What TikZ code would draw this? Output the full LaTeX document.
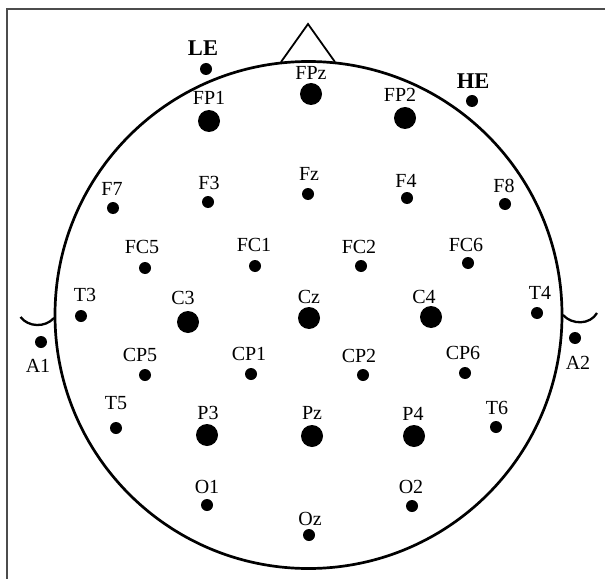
\documentclass[tikz,border=0pt]{standalone}
\usepackage{fontspec}
\setmainfont{Liberation Serif}
\begin{document}
\begin{tikzpicture}[x=1bp,y=-1bp,
  lbl/.style={inner sep=0pt,font=\fontsize{20bp}{21bp}\selectfont},
  reflbl/.style={inner sep=0pt,font=\fontsize{22.5bp}{23bp}\selectfont\bfseries},
  edot/.style={circle,fill=black,inner sep=0pt,minimum size=12bp},
  bigdot/.style={circle,fill=black,inner sep=0pt,minimum size=22bp},
  head/.style={line width=2.7bp},
  ear/.style={line width=2.3bp},
  nose/.style={line width=1.8bp,line join=miter}]
\useasboundingbox (0,0) rectangle (605,579);
% frame
\draw[line width=1.3bp,black!70] (7,579) -- (7,9) -- (605,9);
% head outline, nose and ears
\draw[head] (308.5,315) circle[radius=253.5];
\draw[nose] (281,62) -- (308,24) -- (335,62);
\draw[ear] (20.5,317) .. controls (28,327) and (45,328) .. (54,318);
\draw[ear] (563,315) .. controls (572,325) and (590,325) .. (597,313);
% reference electrodes
\node[reflbl] (l-LE) at (203,48) {LE};
\node[edot] (e-LE) at (206,69) {};
\node[reflbl] (l-HE) at (473,81) {HE};
\node[edot] (e-HE) at (472,101) {};
% scalp electrodes: name / label position / electrode position / style
\foreach \n/\lx/\ly/\dx/\dy/\s in {
  FPz/311/73/311/94/bigdot, FP1/209/98/209/121/bigdot, FP2/400/95/405/118/bigdot,
  F7/112/189/113/208/edot, F3/209/183/208/202/edot, Fz/309/174/308/194/edot,
  F4/406/181/407/198/edot, F8/504/186/505/204/edot,
  FC5/142/247/145/268/edot, FC1/254/245/255/266/edot, FC2/359/247/361/266/edot,
  FC6/466/245/468/263/edot,
  T3/85/295/81/316/edot, C3/183/298/188/322/bigdot, Cz/309/297/309/318/bigdot,
  C4/424/297/431/317/bigdot, T4/540/293/537/313/edot,
  A1/38/366/41/342/edot, A2/578/363/575/338/edot,
  CP5/140/355/145/375/edot, CP1/249/354/251/374/edot, CP2/359/356/363/375/edot,
  CP6/463/353/465/373/edot,
  T5/116/403/116/428/edot, P3/208/413/207/435/bigdot, Pz/312/413/312/436/bigdot,
  P4/413/414/414/436/bigdot, T6/497/408/496/427/edot,
  O1/207/487/207/505/edot, O2/411/487/412/506/edot, Oz/310/519/309/535/edot}
{
  \node[lbl] (l-\n) at (\lx,\ly) {\n};
  \node[\s] (e-\n) at (\dx,\dy) {};
}
\end{tikzpicture}
\end{document}
